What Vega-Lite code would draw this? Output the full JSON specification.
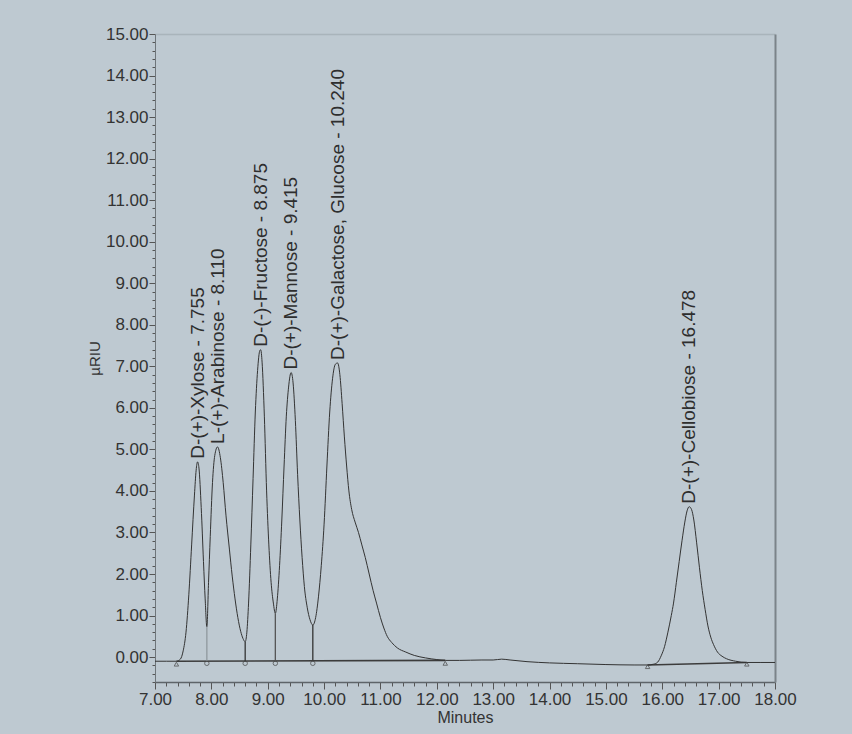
{
  "$schema": "https://vega.github.io/schema/vega-lite/v6.json",
  "width": 620,
  "height": 648,
  "autosize": {"type": "none"},
  "padding": {"left": 155, "top": 34, "right": 77, "bottom": 52},
  "background": "#bec9d1",
  "config": {
    "view": {"stroke": null},
    "font": "Liberation Sans",
    "axis": {"grid": false, "labelFont": "Liberation Sans", "titleFont": "Liberation Sans", "labelFlush": false, "labelOverlap": false}
  },
  "datasets": {
    "curve": [
      {"t": 7.0, "v": -0.10}, {"t": 7.2, "v": -0.10}, {"t": 7.38, "v": -0.10}, {"t": 7.45, "v": -0.05},
      {"t": 7.5, "v": 0.15}, {"t": 7.55, "v": 0.6}, {"t": 7.6, "v": 1.5}, {"t": 7.65, "v": 2.7},
      {"t": 7.7, "v": 3.9}, {"t": 7.73, "v": 4.5}, {"t": 7.755, "v": 4.7}, {"t": 7.78, "v": 4.55},
      {"t": 7.82, "v": 3.6}, {"t": 7.86, "v": 2.3}, {"t": 7.89, "v": 1.4}, {"t": 7.92, "v": 0.73},
      {"t": 7.95, "v": 1.8}, {"t": 7.98, "v": 2.9}, {"t": 8.02, "v": 4.2}, {"t": 8.06, "v": 4.85},
      {"t": 8.11, "v": 5.06}, {"t": 8.16, "v": 4.8}, {"t": 8.21, "v": 4.2}, {"t": 8.26, "v": 3.4},
      {"t": 8.32, "v": 2.6}, {"t": 8.37, "v": 1.95}, {"t": 8.42, "v": 1.4}, {"t": 8.47, "v": 0.95},
      {"t": 8.52, "v": 0.62}, {"t": 8.56, "v": 0.45}, {"t": 8.6, "v": 0.37}, {"t": 8.63, "v": 0.6},
      {"t": 8.66, "v": 1.3}, {"t": 8.7, "v": 2.7}, {"t": 8.74, "v": 4.3}, {"t": 8.78, "v": 5.9},
      {"t": 8.82, "v": 6.9}, {"t": 8.86, "v": 7.38}, {"t": 8.875, "v": 7.4}, {"t": 8.9, "v": 7.1},
      {"t": 8.94, "v": 5.8}, {"t": 8.98, "v": 4.0}, {"t": 9.02, "v": 2.7}, {"t": 9.06, "v": 1.8},
      {"t": 9.1, "v": 1.3}, {"t": 9.135, "v": 1.05}, {"t": 9.17, "v": 1.4}, {"t": 9.21, "v": 2.2},
      {"t": 9.25, "v": 3.3}, {"t": 9.29, "v": 4.6}, {"t": 9.33, "v": 5.8}, {"t": 9.37, "v": 6.5},
      {"t": 9.415, "v": 6.85}, {"t": 9.45, "v": 6.6}, {"t": 9.49, "v": 5.7}, {"t": 9.53, "v": 4.4},
      {"t": 9.57, "v": 3.3}, {"t": 9.61, "v": 2.4}, {"t": 9.65, "v": 1.7}, {"t": 9.7, "v": 1.2},
      {"t": 9.75, "v": 0.9}, {"t": 9.8, "v": 0.77}, {"t": 9.85, "v": 0.95}, {"t": 9.9, "v": 1.45},
      {"t": 9.95, "v": 2.2}, {"t": 10.0, "v": 3.2}, {"t": 10.05, "v": 4.6}, {"t": 10.1, "v": 5.9},
      {"t": 10.15, "v": 6.7}, {"t": 10.2, "v": 7.05}, {"t": 10.24, "v": 7.08}, {"t": 10.28, "v": 6.8},
      {"t": 10.32, "v": 6.1}, {"t": 10.36, "v": 5.3}, {"t": 10.4, "v": 4.6}, {"t": 10.44, "v": 4.0},
      {"t": 10.49, "v": 3.55}, {"t": 10.55, "v": 3.25}, {"t": 10.61, "v": 3.0}, {"t": 10.67, "v": 2.7},
      {"t": 10.73, "v": 2.4}, {"t": 10.8, "v": 2.0}, {"t": 10.87, "v": 1.6}, {"t": 10.93, "v": 1.3},
      {"t": 11.0, "v": 0.95}, {"t": 11.06, "v": 0.7}, {"t": 11.12, "v": 0.5}, {"t": 11.2, "v": 0.35},
      {"t": 11.3, "v": 0.22}, {"t": 11.45, "v": 0.12}, {"t": 11.6, "v": 0.04}, {"t": 11.8, "v": -0.02},
      {"t": 12.0, "v": -0.06}, {"t": 12.15, "v": -0.08}, {"t": 12.4, "v": -0.08}, {"t": 12.8, "v": -0.07},
      {"t": 13.0, "v": -0.07}, {"t": 13.15, "v": -0.05}, {"t": 13.3, "v": -0.07}, {"t": 13.6, "v": -0.11},
      {"t": 14.0, "v": -0.14}, {"t": 14.5, "v": -0.16}, {"t": 15.0, "v": -0.18}, {"t": 15.5, "v": -0.19},
      {"t": 15.74, "v": -0.19}, {"t": 15.85, "v": -0.17}, {"t": 15.92, "v": -0.12}, {"t": 15.98, "v": 0.03},
      {"t": 16.04, "v": 0.25}, {"t": 16.1, "v": 0.6}, {"t": 16.16, "v": 1.0}, {"t": 16.2, "v": 1.3},
      {"t": 16.25, "v": 1.8}, {"t": 16.3, "v": 2.3}, {"t": 16.35, "v": 2.8}, {"t": 16.4, "v": 3.25},
      {"t": 16.44, "v": 3.52}, {"t": 16.478, "v": 3.62}, {"t": 16.52, "v": 3.55}, {"t": 16.56, "v": 3.3},
      {"t": 16.61, "v": 2.75}, {"t": 16.66, "v": 2.15}, {"t": 16.71, "v": 1.6}, {"t": 16.76, "v": 1.15},
      {"t": 16.81, "v": 0.75}, {"t": 16.86, "v": 0.48}, {"t": 16.91, "v": 0.3}, {"t": 16.98, "v": 0.12},
      {"t": 17.06, "v": 0.02}, {"t": 17.14, "v": -0.04}, {"t": 17.3, "v": -0.1}, {"t": 17.5, "v": -0.13},
      {"t": 17.75, "v": -0.13}, {"t": 18.0, "v": -0.13}
    ],
    "baselines": [
      {"seg": "a", "t": 7.38, "v": -0.10}, {"seg": "a", "t": 12.15, "v": -0.08},
      {"seg": "b", "t": 15.74, "v": -0.19}, {"seg": "b", "t": 17.5, "v": -0.13}
    ],
    "drops": [
      {"t": 7.92, "top": 0.73, "bottom": -0.10, "tone": "light"},
      {"t": 8.6, "top": 0.37, "bottom": -0.10, "tone": "dark"},
      {"t": 9.135, "top": 1.05, "bottom": -0.10, "tone": "mid"},
      {"t": 9.8, "top": 0.77, "bottom": -0.09, "tone": "dark"}
    ],
    "markers": [
      {"t": 7.38, "v": -0.17, "kind": "end"},
      {"t": 7.92, "v": -0.15, "kind": "drop"},
      {"t": 8.6, "v": -0.15, "kind": "drop"},
      {"t": 9.135, "v": -0.15, "kind": "drop"},
      {"t": 9.8, "v": -0.15, "kind": "drop"},
      {"t": 12.15, "v": -0.15, "kind": "end"},
      {"t": 15.74, "v": -0.23, "kind": "end"},
      {"t": 17.5, "v": -0.17, "kind": "end"}
    ],
    "labels": [
      {"t": 7.755, "v": 4.7, "name": "D-(+)-Xylose - 7.755"},
      {"t": 8.11, "v": 5.06, "name": "L-(+)-Arabinose - 8.110"},
      {"t": 8.875, "v": 7.4, "name": "D-(-)-Fructose - 8.875"},
      {"t": 9.415, "v": 6.85, "name": "D-(+)-Mannose - 9.415"},
      {"t": 10.24, "v": 7.08, "name": "D-(+)-Galactose, Glucose - 10.240"},
      {"t": 16.478, "v": 3.62, "name": "D-(+)-Cellobiose - 16.478"}
    ]
  },
  "resolve": {"axis": {"x": "independent", "y": "independent"}},
  "layer": [
    {
      "data": {"name": "baselines"},
      "mark": {"type": "line", "color": "#3c3c3c", "strokeWidth": 1.6},
      "encoding": {
        "detail": {"field": "seg"},
        "x": {"field": "t", "type": "quantitative", "scale": {"domain": [7, 18], "nice": false, "zero": false},
          "axis": {"orient": "bottom", "values": [7.2,7.4,7.6,7.8,8.2,8.4,8.6,8.8,9.2,9.4,9.6,9.8,10.2,10.4,10.6,10.8,11.2,11.4,11.6,11.8,12.2,12.4,12.6,12.8,13.2,13.4,13.6,13.8,14.2,14.4,14.6,14.8,15.2,15.4,15.6,15.8,16.2,16.4,16.6,16.8,17.2,17.4,17.6,17.8],
            "labels": false, "domain": false, "tickSize": 4, "tickColor": "#555", "title": null}},
        "y": {"field": "v", "type": "quantitative", "scale": {"domain": [-0.6, 15], "nice": false, "zero": false},
          "axis": {"orient": "left", "values": [-0.6,-0.4,-0.2,0.2,0.4,0.6,0.8,1.2,1.4,1.6,1.8,2.2,2.4,2.6,2.8,3.2,3.4,3.6,3.8,4.2,4.4,4.6,4.8,5.2,5.4,5.6,5.8,6.2,6.4,6.6,6.8,7.2,7.4,7.6,7.8,8.2,8.4,8.6,8.8,9.2,9.4,9.6,9.8,10.2,10.4,10.6,10.8,11.2,11.4,11.6,11.8,12.2,12.4,12.6,12.8,13.2,13.4,13.6,13.8,14.2,14.4,14.6,14.8],
            "labels": false, "domain": false, "tickSize": 3, "tickColor": "#555", "title": null}}
      }
    },
    {
      "data": {"name": "curve"},
      "mark": {"type": "line", "color": "#333333", "strokeWidth": 1, "interpolate": "monotone"},
      "encoding": {
        "x": {"field": "t", "type": "quantitative",
          "axis": {"orient": "bottom", "values": [7,8,9,10,11,12,13,14,15,16,17,18], "format": ".2f",
            "labelFontSize": 17, "labelColor": "#333", "labelPadding": 2, "tickSize": 7, "tickColor": "#555",
            "domainColor": "#5e6469", "domainWidth": 1.5,
            "title": "Minutes", "titleFontSize": 16, "titleFontWeight": "normal", "titleColor": "#333", "titlePadding": 2}},
        "y": {"field": "v", "type": "quantitative",
          "axis": {"orient": "left", "values": [0,1,2,3,4,5,6,7,8,9,10,11,12,13,14,15], "format": ".2f",
            "labelFontSize": 17, "labelColor": "#333", "labelPadding": 1, "tickSize": 6, "tickColor": "#555",
            "domainColor": "#6e757a", "domainWidth": 1,
            "title": "µRIU", "titleFontSize": 15, "titleFontWeight": "normal", "titleColor": "#333", "titlePadding": 3}}
      }
    },
    {
      "data": {"name": "drops"},
      "mark": {"type": "rule", "strokeWidth": 1.3},
      "encoding": {
        "x": {"field": "t", "type": "quantitative",
          "axis": {"orient": "top", "labels": false, "ticks": false, "domainColor": "#a9b4bb", "domainWidth": 1.5, "title": null}},
        "y": {"field": "top", "type": "quantitative",
          "axis": {"orient": "right", "labels": false, "ticks": false, "domainColor": "#7b8389", "domainWidth": 2, "title": null}},
        "y2": {"field": "bottom"},
        "color": {"field": "tone", "type": "nominal", "scale": {"domain": ["light", "mid", "dark"], "range": ["#8f989e", "#555555", "#333333"]}, "legend": null}
      }
    },
    {
      "data": {"name": "markers"},
      "mark": {"type": "point", "filled": false, "strokeWidth": 1, "color": "#444", "size": 20},
      "encoding": {
        "x": {"field": "t", "type": "quantitative", "axis": null},
        "y": {"field": "v", "type": "quantitative", "axis": null},
        "shape": {"field": "kind", "type": "nominal", "scale": {"domain": ["drop", "end"], "range": ["circle", "triangle-up"]}, "legend": null}
      }
    },
    {
      "data": {"name": "labels"},
      "mark": {"type": "text", "angle": 270, "align": "left", "baseline": "middle", "dx": 3, "fontSize": 19, "font": "Liberation Sans", "color": "#2e2e2e"},
      "encoding": {
        "x": {"field": "t", "type": "quantitative", "axis": null},
        "y": {"field": "v", "type": "quantitative", "axis": null},
        "text": {"field": "name", "type": "nominal"}
      }
    }
  ]
}
